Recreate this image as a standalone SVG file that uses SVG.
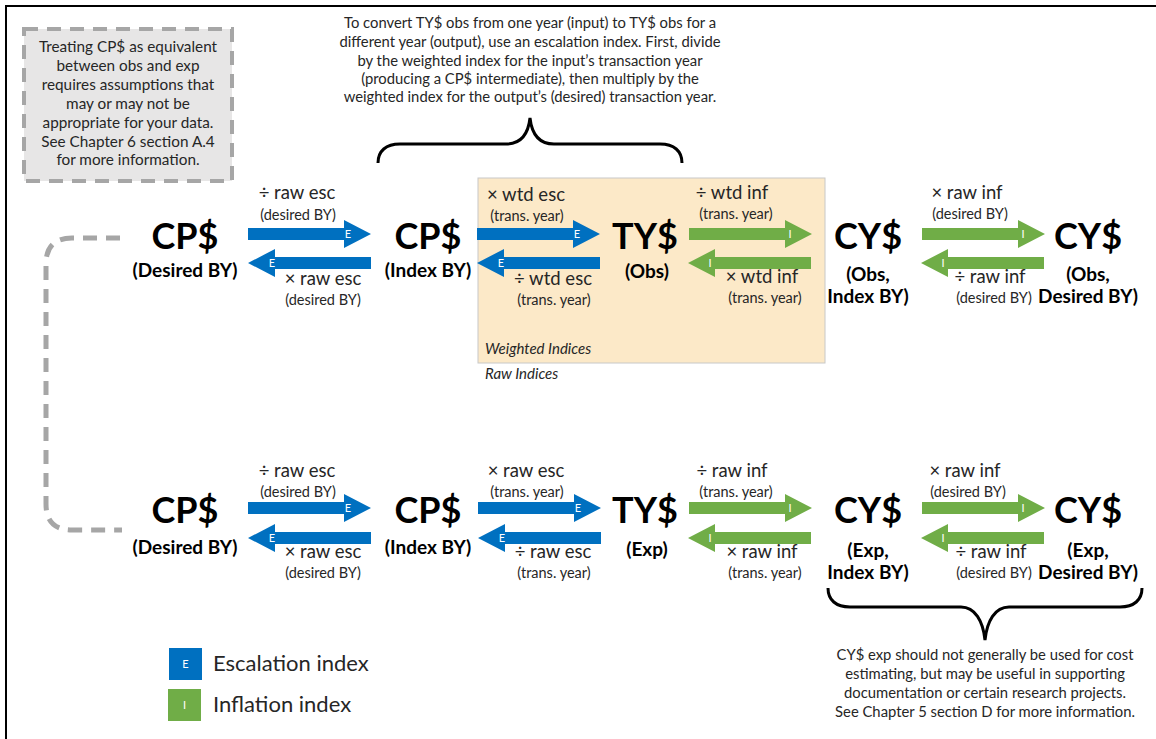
<svg xmlns="http://www.w3.org/2000/svg" width="1156" height="739" viewBox="0 0 1156 739">
  <style>
    text { font-family: Lato, "Open Sans", sans-serif; fill: #262626; }
    .big { font-size: 36px; font-weight: 700; fill: #000; text-anchor: middle; }
    .sub { font-size: 19px; font-weight: 700; fill: #000; text-anchor: middle; }
    .op { font-size: 18.5px; text-anchor: middle; }
    .yr { font-size: 14.5px; text-anchor: middle; }
    .note { font-size: 14.8px; text-anchor: middle; }
    .cav { font-size: 15.3px; text-anchor: middle; }
    .tag { font-size: 11px; fill: #fff; text-anchor: middle; }
    .ital { font-size: 15px; font-style: italic; }
    .legend { font-size: 22px; }
    .esc { fill: #0070c0; }
    .inf { fill: #70ad47; }
    .brace { fill: none; stroke: #000; stroke-width: 3; }
    .dash { fill: none; stroke: #a6a6a6; stroke-width: 5; stroke-dasharray: 14 9; }
  </style>
  <defs>
    <!-- block arrow pointing right, tip at the origin -->
    <path id="arr" d="M0,0 L-27,-14 L-27,-6 L-123,-6 L-123,6 L-27,6 L-27,14 Z"/>
  </defs>

  <rect width="1156" height="739" fill="#fff"/>
  <path d="M6,739 V6 H1156" fill="none" stroke="#000" stroke-width="2"/>

  <!-- weighted index region -->
  <g id="weighted-region">
    <rect x="478" y="178" width="347" height="185" fill="#fce9c8" stroke="#c8c8c8" stroke-width="1"/>
    <text class="ital" x="485" y="354">Weighted Indices</text>
    <text class="ital" x="485" y="379">Raw Indices</text>
  </g>

  <!-- caveat box -->
  <g id="caveat">
    <rect x="24" y="29" width="208" height="152" fill="#e7e6e6" stroke="#a6a6a6" stroke-width="4" stroke-dasharray="14 9"/>
    <text class="cav" x="128" y="52">Treating CP$ as equivalent</text>
    <text class="cav" x="128" y="71">between obs and exp</text>
    <text class="cav" x="128" y="90">requires assumptions that</text>
    <text class="cav" x="128" y="109">may or may not be</text>
    <text class="cav" x="128" y="128">appropriate for your data.</text>
    <text class="cav" x="128" y="147">See Chapter 6 section A.4</text>
    <text class="cav" x="128" y="165">for more information.</text>
  </g>

  <!-- escalation note with brace -->
  <g id="escalation-note">
    <text class="note" x="530" y="28">To convert TY$ obs from one year (input) to TY$ obs for a</text>
    <text class="note" x="530" y="47">different year (output), use an escalation index. First, divide</text>
    <text class="note" x="530" y="66">by the weighted index for the input’s transaction year</text>
    <text class="note" x="530" y="84">(producing a CP$ intermediate), then multiply by the</text>
    <text class="note" x="530" y="102">weighted index for the output’s (desired) transaction year.</text>
    <path class="brace" d="M378,163 C378,151 386,144 400,144 L506,144 C520,144 528,136 530,118 C532,136 540,144 554,144 L660,144 C674,144 682,151 682,163"/>
  </g>

  <!-- CY$ exp note with brace -->
  <g id="cy-exp-note">
    <path class="brace" d="M828,588 C828,600 836,607 850,607 L961,607 C975,607 983,621 985,640 C987,621 995,607 1009,607 L1120,607 C1134,607 1142,600 1142,588"/>
    <text class="note" x="985" y="660">CY$ exp should not generally be used for cost</text>
    <text class="note" x="985" y="679">estimating, but may be useful in supporting</text>
    <text class="note" x="985" y="698">documentation or certain research projects.</text>
    <text class="note" x="985" y="717">See Chapter 5 section D for more information.</text>
  </g>

  <!-- nodes, observed row -->
  <g id="cp-desired-obs">
    <text class="big" x="185" y="249">CP$</text>
    <text class="sub" x="185" y="277">(Desired BY)</text>
  </g>
  <g id="cp-index-obs">
    <text class="big" x="428" y="249">CP$</text>
    <text class="sub" x="428" y="277">(Index BY)</text>
  </g>
  <g id="ty-obs">
    <text class="big" x="645" y="249">TY$</text>
    <text class="sub" x="647" y="278">(Obs)</text>
  </g>
  <g id="cy-obs-index">
    <text class="big" x="868" y="249">CY$</text>
    <text class="sub" x="868" y="281">(Obs,</text>
    <text class="sub" x="868" y="303">Index BY)</text>
  </g>
  <g id="cy-obs-desired">
    <text class="big" x="1088" y="249">CY$</text>
    <text class="sub" x="1088" y="281">(Obs,</text>
    <text class="sub" x="1088" y="303">Desired BY)</text>
  </g>

  <!-- nodes, expected row -->
  <g id="cp-desired-exp">
    <text class="big" x="185" y="523">CP$</text>
    <text class="sub" x="185" y="554">(Desired BY)</text>
  </g>
  <g id="cp-index-exp">
    <text class="big" x="428" y="523">CP$</text>
    <text class="sub" x="428" y="554">(Index BY)</text>
  </g>
  <g id="ty-exp">
    <text class="big" x="645" y="523">TY$</text>
    <text class="sub" x="647" y="556">(Exp)</text>
  </g>
  <g id="cy-exp-index">
    <text class="big" x="868" y="523">CY$</text>
    <text class="sub" x="868" y="557">(Exp,</text>
    <text class="sub" x="868" y="579">Index BY)</text>
  </g>
  <g id="cy-exp-desired">
    <text class="big" x="1088" y="523">CY$</text>
    <text class="sub" x="1088" y="557">(Exp,</text>
    <text class="sub" x="1088" y="579">Desired BY)</text>
  </g>

  <!-- connectors -->
  <g id="connectors">
    <path class="dash" d="M120,238 H72 Q46,238 46,264 V504 Q46,530 72,530 H122"/>

    <!-- observed row -->
    <use href="#arr" class="esc" transform="translate(371,234)"/>
    <use href="#arr" class="esc" transform="translate(248,263) scale(-1,1)"/>
    <use href="#arr" class="esc" transform="translate(600,234)"/>
    <use href="#arr" class="esc" transform="translate(477,263) scale(-1,1)"/>
    <use href="#arr" class="inf" transform="translate(812,234)"/>
    <use href="#arr" class="inf" transform="translate(688,263) scale(-1,1)"/>
    <use href="#arr" class="inf" transform="translate(1045,234)"/>
    <use href="#arr" class="inf" transform="translate(921,263) scale(-1,1)"/>
    <text class="tag" x="348" y="238">E</text>
    <text class="tag" x="272" y="267">E</text>
    <text class="tag" x="577" y="238">E</text>
    <text class="tag" x="501" y="267">E</text>
    <text class="tag" x="790" y="238">I</text>
    <text class="tag" x="710" y="267">I</text>
    <text class="tag" x="1023" y="238">I</text>
    <text class="tag" x="943" y="267">I</text>

    <text class="op" x="297" y="199">÷ raw esc</text>
    <text class="yr" x="298" y="220">(desired BY)</text>
    <text class="op" x="323" y="285">× raw esc</text>
    <text class="yr" x="323" y="305">(desired BY)</text>
    <text class="op" x="526" y="201">× wtd esc</text>
    <text class="yr" x="527" y="221">(trans. year)</text>
    <text class="op" x="553" y="285">÷ wtd esc</text>
    <text class="yr" x="554" y="305">(trans. year)</text>
    <text class="op" x="732" y="199">÷ wtd inf</text>
    <text class="yr" x="736" y="219">(trans. year)</text>
    <text class="op" x="762" y="283">× wtd inf</text>
    <text class="yr" x="765" y="303">(trans. year)</text>
    <text class="op" x="967" y="199">× raw inf</text>
    <text class="yr" x="970" y="219">(desired BY)</text>
    <text class="op" x="990" y="283">÷ raw inf</text>
    <text class="yr" x="994" y="303">(desired BY)</text>

    <!-- expected row -->
    <use href="#arr" class="esc" transform="translate(371,508)"/>
    <use href="#arr" class="esc" transform="translate(248,538) scale(-1,1)"/>
    <use href="#arr" class="esc" transform="translate(601,508)"/>
    <use href="#arr" class="esc" transform="translate(478,538) scale(-1,1)"/>
    <use href="#arr" class="inf" transform="translate(812,508)"/>
    <use href="#arr" class="inf" transform="translate(688,538) scale(-1,1)"/>
    <use href="#arr" class="inf" transform="translate(1045,508)"/>
    <use href="#arr" class="inf" transform="translate(921,538) scale(-1,1)"/>
    <text class="tag" x="348" y="512">E</text>
    <text class="tag" x="272" y="542">E</text>
    <text class="tag" x="578" y="512">E</text>
    <text class="tag" x="502" y="542">E</text>
    <text class="tag" x="790" y="512">I</text>
    <text class="tag" x="710" y="542">I</text>
    <text class="tag" x="1023" y="512">I</text>
    <text class="tag" x="943" y="542">I</text>

    <text class="op" x="297" y="477">÷ raw esc</text>
    <text class="yr" x="298" y="497">(desired BY)</text>
    <text class="op" x="323" y="558">× raw esc</text>
    <text class="yr" x="323" y="578">(desired BY)</text>
    <text class="op" x="526" y="477">× raw esc</text>
    <text class="yr" x="527" y="497">(trans. year)</text>
    <text class="op" x="553" y="558">÷ raw esc</text>
    <text class="yr" x="554" y="578">(trans. year)</text>
    <text class="op" x="732" y="477">÷ raw inf</text>
    <text class="yr" x="736" y="497">(trans. year)</text>
    <text class="op" x="762" y="558">× raw inf</text>
    <text class="yr" x="765" y="578">(trans. year)</text>
    <text class="op" x="965" y="477">× raw inf</text>
    <text class="yr" x="968" y="497">(desired BY)</text>
    <text class="op" x="991" y="558">÷ raw inf</text>
    <text class="yr" x="994" y="578">(desired BY)</text>
  </g>

  <!-- legend -->
  <g id="legend">
    <rect class="esc" x="169" y="648" width="33" height="32"/>
    <text class="tag" x="185.5" y="668">E</text>
    <text class="legend" x="213" y="671">Escalation index</text>
    <rect class="inf" x="168" y="689" width="33" height="32"/>
    <text class="tag" x="184.5" y="709">I</text>
    <text class="legend" x="213" y="712">Inflation index</text>
  </g>
</svg>
